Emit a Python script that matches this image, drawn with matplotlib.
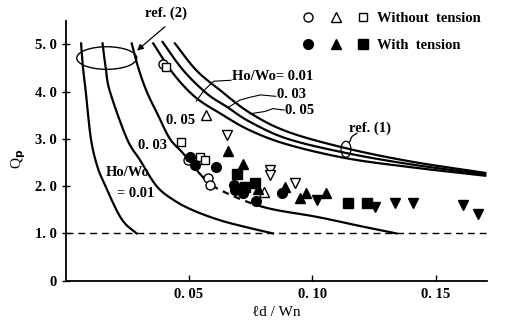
import numpy as np
import matplotlib.pyplot as plt
from matplotlib.patches import Ellipse
from matplotlib.legend_handler import HandlerTuple

plt.rcParams['font.family'] = ['Liberation Serif', 'DejaVu Serif']
plt.rcParams['font.weight'] = 'bold'

# ---- curves, ref. (2)  (Ho/Wo = 0.01, 0.03, 0.05)
ref2_001_x = [0.0063, 0.0071, 0.0082, 0.0103, 0.0130, 0.0162, 0.0207, 0.0241, 0.0288]
ref2_001_y = [5.02, 4.50, 4.00, 3.00, 2.40, 2.00, 1.49, 1.21, 1.00]
ref2_003_x = [0.0150, 0.0163, 0.0180, 0.0249, 0.0302, 0.0369, 0.0437, 0.0516, 0.0625, 0.0734, 0.0840]
ref2_003_y = [5.02, 4.50, 4.00, 3.00, 2.55, 2.00, 1.71, 1.49, 1.28, 1.13, 1.00]
ref2_005_x = [0.0268, 0.0295, 0.0329, 0.0375, 0.0423, 0.0477, 0.0557, 0.0626, 0.0800, 0.1018, 0.1190, 0.1340]
ref2_005_y = [5.02, 4.50, 4.00, 3.50, 3.00, 2.69, 2.19, 1.92, 1.56, 1.35, 1.16, 1.00]

# ---- curves, ref. (1)
ref1_001_x = [0.0355, 0.0435, 0.0524, 0.0626, 0.0747, 0.0900, 0.1138, 0.1400, 0.1700]
ref1_001_y = [5.02, 4.39, 3.89, 3.54, 3.18, 2.88, 2.59, 2.40, 2.22]
ref1_003_x = [0.0393, 0.0477, 0.0572, 0.0653, 0.0747, 0.0900, 0.1138, 0.1400, 0.1700]
ref1_003_y = [5.05, 4.45, 3.96, 3.68, 3.36, 3.00, 2.70, 2.46, 2.25]
ref1_005_x = [0.0443, 0.0530, 0.0626, 0.0747, 0.0900, 0.1138, 0.1400, 0.1700]
ref1_005_y = [5.02, 4.45, 4.03, 3.55, 3.15, 2.80, 2.52, 2.28]

# ---- experiments, without tension (open)
open_circ_x = [0.0393, 0.0497, 0.0577, 0.0585]
open_circ_y = [4.58, 2.55, 2.17, 2.02]
open_sq_x = [0.0407, 0.0468, 0.0545, 0.0565]
open_sq_y = [4.53, 2.94, 2.62, 2.55]
open_tri_x = [0.0569, 0.0805]
open_tri_y = [3.50, 1.88]
open_dtri_x = [0.0653, 0.0828, 0.0828, 0.0929]
open_dtri_y = [3.08, 2.34, 2.23, 2.06]

# ---- experiments, with tension (filled)
fill_circ_x = [0.0504, 0.0524, 0.0608, 0.0683, 0.0686, 0.0720, 0.0770, 0.0875]
fill_circ_y = [2.62, 2.45, 2.40, 2.02, 1.92, 1.85, 1.69, 1.85]
fill_tri_x = [0.0659, 0.0720, 0.0781, 0.0889, 0.0949, 0.0976, 0.1057]
fill_tri_y = [2.75, 2.47, 1.95, 1.99, 1.74, 1.85, 1.86]
fill_sq_x = [0.0693, 0.0727, 0.0767, 0.1145, 0.1223]
fill_sq_y = [2.26, 1.99, 2.06, 1.64, 1.64]
fill_dtri_x = [0.1017, 0.1253, 0.1334, 0.1406, 0.1610, 0.1671]
fill_dtri_y = [1.71, 1.55, 1.64, 1.64, 1.60, 1.42]

yticks = [0, 1, 2, 3, 4, 5]
ytick_labels = ['0', '1. 0', '2. 0', '3. 0', '4. 0', '5. 0']
xticks = [0.05, 0.10, 0.15]
xtick_labels = ['0. 05', '0. 10', '0. 15']


def smooth(xs, ys, n=12):
    # Catmull-Rom through the read points, only to draw a smooth line
    p = np.column_stack([xs, ys]).astype(float)
    p = np.vstack([2 * p[0] - p[1], p, 2 * p[-1] - p[-2]])
    t = np.linspace(0, 1, n, endpoint=False)[:, None]
    out = []
    for i in range(1, len(p) - 2):
        p0, p1, p2, p3 = p[i - 1], p[i], p[i + 1], p[i + 2]
        out.append(0.5 * (2 * p1 + (-p0 + p2) * t + (2 * p0 - 5 * p1 + 4 * p2 - p3) * t ** 2
                          + (-p0 + 3 * p1 - 3 * p2 + p3) * t ** 3))
    out.append(p[-2][None, :])
    out = np.vstack(out)
    return out[:, 0], out[:, 1]


fig = plt.figure(figsize=(5.07, 3.27), dpi=100)
ax = fig.add_axes([65.5 / 507, 46.3 / 327, 421.5 / 507, 260 / 327])
ax.set_xlim(0, 0.1707)
ax.set_ylim(0, 5.5)

lw = 1.6
# ref. (2) curves
ax.plot(*smooth(ref2_001_x, ref2_001_y), 'k-', lw=lw)
ax.plot(*smooth(ref2_003_x, ref2_003_y), 'k-', lw=lw)
# 0.05 curve runs dashed through the data cluster
cx, cy = smooth(ref2_005_x, ref2_005_y)
solid1 = cx <= 0.0557
dash = (cx >= 0.0557) & (cx <= 0.080)
solid2 = cx >= 0.080
ax.plot(cx[solid1], cy[solid1], 'k-', lw=lw)
ax.plot(cx[dash], cy[dash], 'k', lw=lw, ls=(0, (3, 2.5)))
ax.plot(cx[solid2], cy[solid2], 'k-', lw=lw)

# ref. (1) curves
for xs, ys in [(ref1_001_x, ref1_001_y), (ref1_003_x, ref1_003_y), (ref1_005_x, ref1_005_y)]:
    ax.plot(*smooth(xs, ys), 'k-', lw=lw)

ax.axhline(1.0, color='k', lw=1.0, ls=(0, (5, 3.5)))

# data points
mk = dict(ls='none', color='k', zorder=5)
oc, = ax.plot(open_circ_x, open_circ_y, marker='o', ms=6.5, mfc='white', mew=1, **mk)
osq, = ax.plot(open_sq_x, open_sq_y, marker='s', ms=6, mfc='white', mew=1, **mk)
otr, = ax.plot(open_tri_x, open_tri_y, marker='^', ms=7, mfc='white', mew=1, **mk)
ax.plot(open_dtri_x, open_dtri_y, marker='v', ms=7, mfc='white', mew=1, **mk)
fc, = ax.plot(fill_circ_x, fill_circ_y, marker='o', ms=7, **mk)
ftr, = ax.plot(fill_tri_x, fill_tri_y, marker='^', ms=7.5, **mk)
fsq, = ax.plot(fill_sq_x, fill_sq_y, marker='s', ms=6.5, **mk)
ax.plot(fill_dtri_x, fill_dtri_y, marker='v', ms=7.5, **mk)

# ellipses + annotations
ax.add_patch(Ellipse((0.0167, 4.71), 0.0243, 0.478, fill=False, lw=1.0, color='k'))
ax.annotate('', xy=(0.0281, 4.83), xytext=(0.0411, 5.41),
            arrowprops=dict(arrowstyle='-|>', lw=0.9, color='k', mutation_scale=9),
            annotation_clip=False)
ax.text(0.0407, 5.66, 'ref. (2)', ha='center', va='center', fontsize=10.5)

ax.add_patch(Ellipse((0.1136, 2.78), 0.004, 0.34, fill=False, lw=0.9, color='k'))
ax.plot([0.1150, 0.1160, 0.1180], [2.93, 3.05, 3.12], 'k-', lw=0.9)
ax.text(0.1148, 3.22, 'ref. (1)', ha='left', va='center', fontsize=10.5)

ax.text(0.0674, 4.31, 'Ho/Wo= 0.01', ha='left', va='center', fontsize=10.5)
ax.plot([0.0670, 0.0600, 0.0560, 0.0530], [4.24, 4.22, 4.02, 3.80], 'k-', lw=0.8)
ax.text(0.0856, 3.93, '0. 03', ha='left', va='center', fontsize=10.5)
ax.plot([0.0852, 0.0790, 0.0747, 0.0706, 0.0658], [3.90, 3.93, 3.88, 3.82, 3.66], 'k-', lw=0.8)
ax.text(0.0889, 3.61, '0. 05', ha='left', va='center', fontsize=10.5)
ax.plot([0.0885, 0.0840, 0.0808, 0.0747], [3.61, 3.64, 3.58, 3.53], 'k-', lw=0.8)

ax.text(0.0464, 3.38, '0. 05', ha='center', va='center', fontsize=10.5)
ax.text(0.0354, 2.87, '0. 03', ha='center', va='center', fontsize=10.5)
ax.text(0.0253, 2.29, 'Ho/Wo', ha='center', va='center', fontsize=10.5)
ax.text(0.0285, 1.85, '= 0.01', ha='center', va='center', fontsize=10.5)

# axes styling
for s in ['top', 'right']:
    ax.spines[s].set_visible(False)
for s in ['left', 'bottom']:
    ax.spines[s].set_linewidth(1.3)
ax.set_yticks(yticks)
ax.set_yticklabels(ytick_labels, fontsize=10.5)
ax.set_xticks(xticks)
ax.set_xticklabels(xtick_labels, fontsize=10.5)
ax.tick_params(axis='y', direction='inout', length=6, width=1)
ax.tick_params(axis='x', direction='in', length=4, width=1, pad=5)

ax.set_ylabel('Q$_\\mathrm{p}$', fontsize=11, fontweight='normal')
ax.yaxis.set_label_coords(-0.088, 0.47)
ax.set_xlabel('ℓd / Wn', fontsize=11, labelpad=4)

leg = fig.legend([(oc, otr, osq), (fc, ftr, fsq)], ['Without  tension', 'With  tension'],
                 handler_map={tuple: HandlerTuple(ndivide=None, pad=1.2)},
                 loc='upper left', bbox_to_anchor=(297 / 507, 1 - 6 / 327),
                 frameon=False, fontsize=10.5, handlelength=4.5, handletextpad=0.6,
                 labelspacing=0.95, borderaxespad=0)

fig.savefig('out.png', dpi=100)
